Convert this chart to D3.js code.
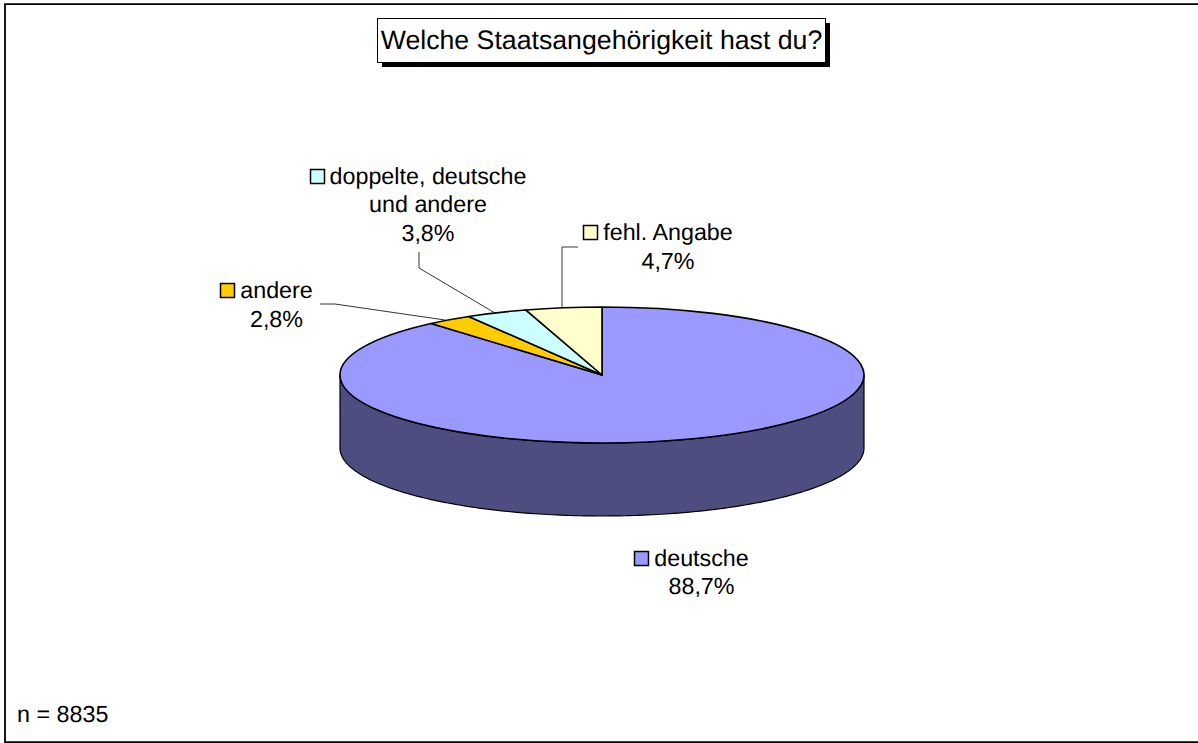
<!DOCTYPE html>
<html>
  <head>
    <meta charset="utf-8">
    <title>Staatsangehörigkeit</title>
    <script src="https://d3js.org/d3.v7.min.js"></script>
    <style>
      html, body { margin: 0; padding: 0; background: #fff; }
      svg { display: block; }
      text { font-family: "Liberation Sans", Arial, sans-serif; fill: #000; text-rendering: geometricPrecision; }
    </style>
  </head>
  <body>
    <svg width="1198" height="743"></svg>
<script>
// Data
const categories = ['deutsche', 'andere', 'doppelte, deutsche und andere', 'fehl. Angabe'];
const values = [88.7, 2.8, 3.8, 4.7];
const valueLabels = ['88,7%', '2,8%', '3,8%', '4,7%'];
const colors = ['#9999FF', '#FFCC00', '#CCFFFF', '#FFFFCC'];
const titleText = 'Welche Staatsangehörigkeit hast du?';
const noteText = 'n = 8835';

const svg = d3.select('svg');
const fontSize = 23.3;

// chart frame, the picture is cut off before the right edge
svg.append('path')
    .attr('d', 'M1198,4.2H5V742.2H1198')
    .attr('fill', 'none')
    .attr('stroke', '#000').attr('stroke-width', 1.8);

// title box with the hard shadow
svg.append('rect').attr('x', 382).attr('y', 23).attr('width', 448).attr('height', 44).attr('fill', '#000');
svg.append('rect').attr('x', 377.5).attr('y', 18.5).attr('width', 448).attr('height', 44)
    .attr('fill', '#fff').attr('stroke', '#000');
svg.append('text').attr('x', 601.5).attr('y', 49.3)
    .attr('text-anchor', 'middle').attr('font-size', 26.7).text(titleText);

svg.append('text').attr('x', 17).attr('y', 722).attr('font-size', fontSize).text(noteText);

/***** PIE *****/
const cx = 602, cy = 375, rx = 262, ry = 68, depth = 73;

const slices = d3.pie().sort(null).value(d => d)(values);
const arc = d3.arc().innerRadius(0).outerRadius(rx);

const pie = svg.append('g').attr('transform', `translate(${cx},${cy})`);

// side wall: front half of the rim, then back along the same half lowered by depth
const rimAngles = d3.range(0, 181).map(d => Math.PI / 2 + d * Math.PI / 180);
const rimX = a => rx * Math.sin(a), rimY = a => -ry * Math.cos(a);
const upper = d3.line().x(rimX).y(rimY);
const lower = d3.line().x(rimX).y(a => rimY(a) + depth);
pie.append('path')
    .attr('d', upper(rimAngles) + 'L' + lower(rimAngles.slice().reverse()).slice(1) + 'Z')
    .attr('fill', '#4D4D80')
    .attr('stroke', '#000').attr('stroke-width', 1.2).attr('stroke-linejoin', 'round');

// top face
pie.append('g')
    .attr('transform', `scale(1,${ry / rx})`)
    .selectAll('path')
    .data(slices)
    .join('path')
    .attr('d', arc)
    .attr('fill', (d, i) => colors[i])
    .attr('stroke', '#000')
    .attr('stroke-width', 1.6)
    .attr('stroke-linejoin', 'round')
    .attr('vector-effect', 'non-scaling-stroke');

/***** LEADER LINES *****/
const leaders = [
    { pts: [[320, 304], [335, 304], [445, 320]] },
    { pts: [[419, 252], [419, 268], [495, 313]] },
    { pts: [[578, 247], [562, 247], [562, 308]] }
];
svg.selectAll('path.leader')
    .data(leaders)
    .join('path')
    .attr('class', 'leader')
    .attr('d', d => d3.line()(d.pts))
    .attr('fill', 'none')
    .attr('stroke', '#000')
    .attr('stroke-width', 0.8);

/***** LABELS *****/
// lines are centred on cx; the key square sits left of the first line
const labels = [
    { i: 0, cx: 701.5, y: 565.5, lines: ['deutsche'] },
    { i: 1, cx: 276.5, y: 297.7, lines: ['andere'] },
    { i: 2, cx: 428, y: 183.5, lines: ['doppelte, deutsche', 'und andere'] },
    { i: 3, cx: 668, y: 240, lines: ['fehl. Angabe'] }
];
const lineHeight = 28.9;
labels.forEach(l => {
    const g = svg.append('g');
    const all = l.lines.concat(valueLabels[l.i]);
    const texts = g.selectAll('text').data(all).join('text')
        .attr('x', l.cx)
        .attr('y', (d, k) => l.y + k * lineHeight)
        .attr('text-anchor', 'middle')
        .attr('font-size', fontSize)
        .text(d => d);
    const first = texts.node().getComputedTextLength();
    g.append('rect')
        .attr('x', Math.round(l.cx - first / 2 - 20) + 0.5)
        .attr('y', Math.round(l.y - 15) + 0.5)
        .attr('width', 14).attr('height', 14)
        .attr('fill', colors[l.i])
        .attr('stroke', '#000').attr('stroke-width', 1.5);
});
</script>
  </body>
</html>
